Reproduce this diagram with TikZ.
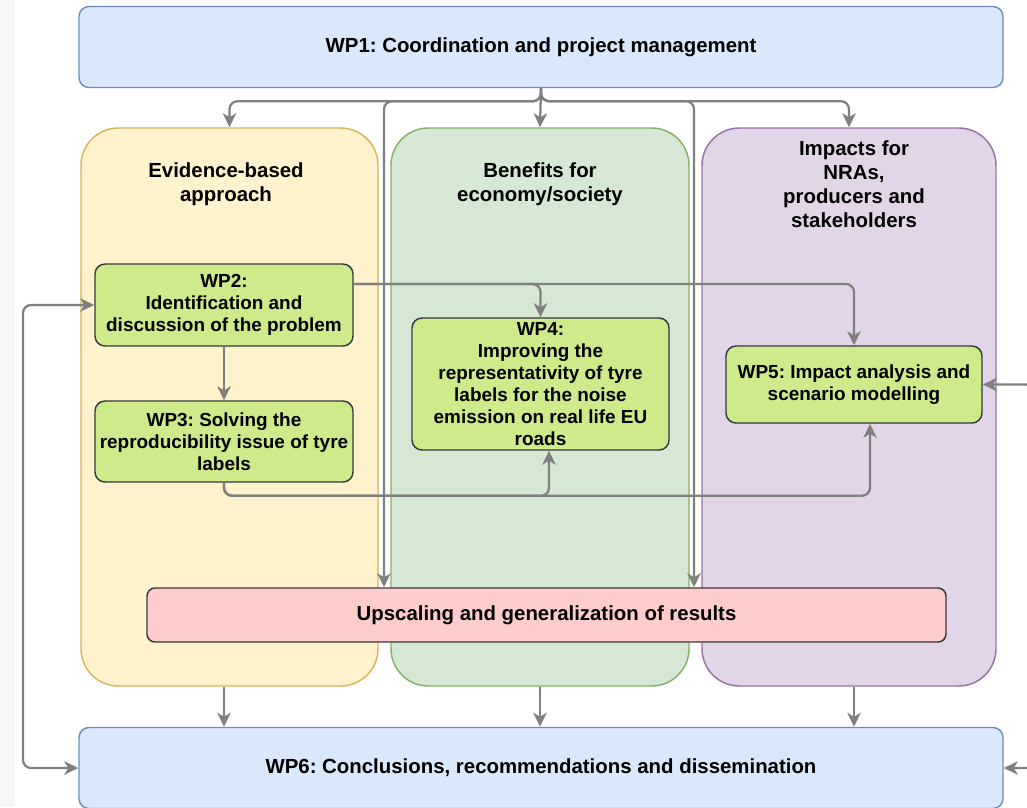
\documentclass[tikz,border=0pt]{standalone}
\usepackage{fontspec}
\setmainfont{Liberation Sans}
\usetikzlibrary{arrows.meta}
\definecolor{bluefill}{HTML}{DAE8FC}
\definecolor{bluedraw}{HTML}{6C8EBF}
\definecolor{yelfill}{HTML}{FFF2CC}
\definecolor{yeldraw}{HTML}{D6B656}
\definecolor{grnfill}{HTML}{D5E8D4}
\definecolor{grndraw}{HTML}{82B366}
\definecolor{purfill}{HTML}{E1D5E7}
\definecolor{purdraw}{HTML}{9673A6}
\definecolor{wpfill}{HTML}{CDEB8B}
\definecolor{wpdraw}{HTML}{36393D}
\definecolor{redfill}{HTML}{FFCCCC}
\definecolor{lineg}{HTML}{808080}
\definecolor{stripg}{HTML}{F6F6F6}
\frenchspacing
\begin{document}
\begin{tikzpicture}[x=0.75pt,y=-0.75pt,
  every node/.style={inner sep=0pt, align=center, font=\bfseries\fontsize{15.3}{16.5}\selectfont},
  hdr/.style={font=\bfseries\fontsize{15.3}{18}\selectfont},
  wpbig/.style={draw=bluedraw, fill=bluefill, line width=1.1pt, rounded corners=7.5pt, minimum width=693pt, minimum height=60.75pt},
  cont/.style={line width=1.1pt, rounded corners=28pt, minimum height=418.5pt},
  wpbox/.style={draw=wpdraw, fill=wpfill, line width=1.1pt, rounded corners=7.5pt, font=\bfseries\fontsize{14.2}{16.5}\selectfont},
  arr/.tip={Stealth[length=10.5pt,width=10pt,inset=3pt]},
  conn/.style={draw=lineg, line width=1.7pt, rounded corners=6pt, -arr},
  conn2/.style={draw=lineg, line width=1.7pt, rounded corners=6pt, arr-arr}]
\useasboundingbox (0,0) rectangle (1027,807);
\clip (0,0) rectangle (1027,807);
\fill[stripg] (0,0) rectangle (15,807);

% containers
\node[cont, draw=yeldraw, fill=yelfill, minimum width=222.75pt] (ybox) at (229.5,407) {};
\node[cont, draw=grndraw, fill=grnfill, minimum width=223.5pt] (gbox) at (540,407) {};
\node[cont, draw=purdraw, fill=purfill, minimum width=220.5pt] (pbox) at (849,407) {};
\node[hdr] (yt) at (226,184) {Evidence-based\\approach};
\node[hdr] (gt) at (540,184) {Benefits for\\economy/society};
\node[hdr] (pt) at (854,184.5) {Impacts for\\NRAs,\\producers and\\stakeholders};

% top and bottom
\node[wpbig] (wp1) at (541,47) {WP1: Coordination and project management};
\node[wpbig] (wp6) at (541,768) {WP6: Conclusions, recommendations and dissemination};

% work packages
\node[wpbox, minimum width=193.5pt, minimum height=61.5pt] (wp2) at (224,305) {WP2:\\Identification and\\discussion of the problem};
\node[wpbox, minimum width=193.5pt, minimum height=60.75pt] (wp3) at (224,441.5) {WP3: Solving the\\reproducibility issue of tyre\\labels};
\node[wpbox, minimum width=192.75pt, minimum height=99pt] (wp4) at (540.5,384) {WP4:\\Improving the\\representativity of tyre\\labels for the noise\\emission on real life EU\\roads};
\node[wpbox, minimum width=192pt, minimum height=57.75pt] (wp5) at (854,384.5) {WP5: Impact analysis and\\scenario modelling};
\node[draw=wpdraw, fill=redfill, line width=1.1pt, rounded corners=6pt, minimum width=599.25pt, minimum height=40.5pt] (up) at (546.5,615) {Upscaling and generalization of results};

\coordinate (cL) at (384,0);
\coordinate (cR) at (694,0);
\coordinate (lft) at (23,500);
\coordinate (rgt) at (1034,600);

% WP1 distribution
\draw[conn] (wp1.south) -- ++(0,13) -| (ybox.north);
\draw[conn] (wp1.south) -- (gbox.north);
\draw[conn] (wp1.south) -- ++(0,13) -| (pbox.north);
\draw[conn] (wp1.south) -- ++(0,13) -| (up.north -| cL);
\draw[conn] (wp1.south) -- ++(0,13) -| (up.north -| cR);

% WP2 / WP3 links
\draw[conn] (wp2.south) -- (wp3.north);
\draw[conn] ([yshift=15.75pt]wp2.east) -| (wp4.north);
\draw[conn] ([yshift=15.75pt]wp2.east) -| (wp5.north);
\draw[conn] (wp3.south) -- ++(0,13) -| ([xshift=6.4pt]wp4.south);
\draw[conn] (wp3.south) -- ++(0,13) -| ([xshift=12pt]wp5.south);

% side loops
\draw[conn2] (wp2.west) -| (lft) |- (wp6.west);
\draw[conn2] (wp5.east) -| (rgt) |- (wp6.east);

% into WP6
\draw[conn] (ybox.south -| wp3.south) -- (wp6.north -| wp3.south);
\draw[conn] (gbox.south) -- (wp6.north -| gbox.south);
\draw[conn] (pbox.south -| wp5.south) -- (wp6.north -| wp5.south);
\end{tikzpicture}
\end{document}
